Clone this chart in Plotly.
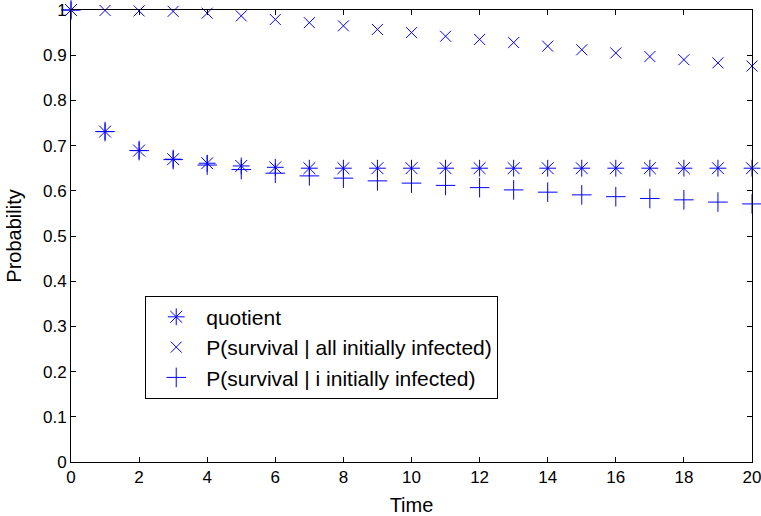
import plotly.graph_objects as go

time = list(range(0, 21))
quotient = [1.0, 0.731, 0.689, 0.670, 0.661, 0.655, 0.652, 0.650, 0.650, 0.650,
            0.650, 0.650, 0.650, 0.650, 0.650, 0.650, 0.650, 0.650, 0.650, 0.650, 0.650]
p_all = [1.0, 0.999, 0.998, 0.997, 0.993, 0.987, 0.979, 0.972, 0.965, 0.957,
         0.950, 0.942, 0.935, 0.928, 0.920, 0.912, 0.905, 0.897, 0.890, 0.883, 0.876]
p_i = [1.0, 0.731, 0.689, 0.669, 0.657, 0.647, 0.639, 0.633, 0.628, 0.622,
       0.617, 0.612, 0.607, 0.602, 0.597, 0.591, 0.587, 0.583, 0.580, 0.575, 0.571]

names = ["quotient", "P(survival | all initially infected)", "P(survival | i initially infected)"]
x_ticks = list(range(0, 21, 2))
y_ticks = [i / 10 for i in range(11)]
y_labels = ["0", "0.1", "0.2", "0.3", "0.4", "0.5", "0.6", "0.7", "0.8", "0.9", "1"]
blue = "rgb(0,0,255)"

fig = go.Figure()
fig.add_trace(go.Scatter(x=time, y=quotient, mode="markers", name=names[0], cliponaxis=False,
                         marker=dict(symbol="asterisk-open", size=14, color=blue, line=dict(width=1, color=blue))))
fig.add_trace(go.Scatter(x=time, y=p_all, mode="markers", name=names[1], cliponaxis=False,
                         marker=dict(symbol="x-thin-open", size=11, color=blue, line=dict(width=1, color=blue))))
fig.add_trace(go.Scatter(x=time, y=p_i, mode="markers", name=names[2], cliponaxis=False,
                         marker=dict(symbol="cross-thin-open", size=14, color=blue, line=dict(width=1, color=blue))))

axis_common = dict(showline=True, linecolor="black", linewidth=1, mirror="ticks",
                   ticks="inside", ticklen=5, tickcolor="black", showgrid=False,
                   zeroline=False, automargin=False, ticklabeloverflow="allow",
                   tickfont=dict(size=17, color="black"))

fig.update_layout(
    width=761, height=516,
    margin=dict(l=71, r=9, t=10, b=54),
    paper_bgcolor="white", plot_bgcolor="white",
    font=dict(family="Liberation Sans, Arial, sans-serif", size=17, color="black"),
    xaxis=dict(range=[0, 20], tickmode="array", tickvals=x_ticks,
               title=dict(text="Time", font=dict(size=20)), **axis_common),
    yaxis=dict(range=[0, 1], tickmode="array", tickvals=y_ticks, ticktext=y_labels,
               title=dict(text="Probability", font=dict(size=20)), **axis_common),
    legend=dict(x=0.109, y=0.368, xanchor="left", yanchor="top", bordercolor="black",
                borderwidth=1, bgcolor="white", font=dict(size=21), itemwidth=50,
                tracegroupgap=0),
    showlegend=True,
)

fig.write_html("out.html")
